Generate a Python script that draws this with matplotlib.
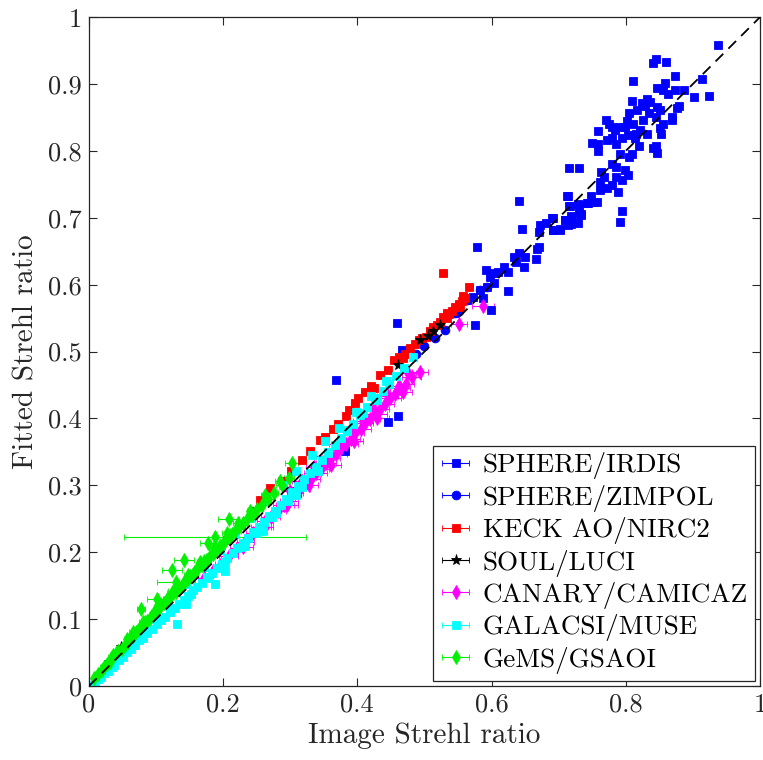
import matplotlib
matplotlib.use("Agg")
import matplotlib.pyplot as plt

plt.rcParams["font.family"] = ["cmr10", "DejaVu Serif"]
plt.rcParams["mathtext.fontset"] = "cm"
plt.rcParams["axes.unicode_minus"] = False

# ---- data ----
irdis_x = [0.937, 0.845, 0.841, 0.860, 0.874, 0.811, 0.914, 0.887, 0.902, 0.924,
           0.859, 0.846, 0.855, 0.863, 0.873, 0.831, 0.836, 0.824, 0.829, 0.809,
           0.846, 0.851, 0.845, 0.880, 0.876, 0.869, 0.869, 0.856, 0.851, 0.853,
           0.845, 0.846, 0.841, 0.834, 0.825, 0.817, 0.805, 0.802, 0.799, 0.791,
           0.784, 0.770, 0.775, 0.780, 0.759, 0.749, 0.759, 0.759, 0.772, 0.780,
           0.786, 0.795, 0.804, 0.814, 0.819, 0.810, 0.805, 0.791, 0.780, 0.785,
           0.799, 0.803, 0.795, 0.786, 0.789, 0.779, 0.772, 0.763, 0.767, 0.762,
           0.762, 0.748, 0.751, 0.757, 0.743, 0.730, 0.730, 0.734, 0.719, 0.714,
           0.715, 0.731, 0.717, 0.709, 0.692, 0.691, 0.702, 0.714, 0.729, 0.794,
           0.791, 0.821, 0.816, 0.831, 0.811,
           0.641, 0.713, 0.729, 0.716, 0.742, 0.734, 0.727, 0.719, 0.710, 0.702,
           0.692, 0.690, 0.681, 0.672, 0.670, 0.645, 0.667, 0.670, 0.666, 0.650,
           0.641, 0.633, 0.637, 0.648, 0.579, 0.618, 0.625, 0.610, 0.603, 0.592,
           0.598, 0.603, 0.593, 0.583, 0.625, 0.587, 0.573, 0.563, 0.599, 0.575,
           0.546, 0.459, 0.466, 0.368, 0.446, 0.460, 0.381, 0.310, 0.306]
irdis_y = [0.959, 0.938, 0.932, 0.933, 0.912, 0.905, 0.907, 0.891, 0.881, 0.882,
           0.902, 0.894, 0.891, 0.885, 0.891, 0.878, 0.873, 0.871, 0.867, 0.874,
           0.866, 0.861, 0.851, 0.867, 0.864, 0.851, 0.846, 0.841, 0.834, 0.826,
           0.807, 0.797, 0.804, 0.856, 0.847, 0.861, 0.856, 0.845, 0.836, 0.836,
           0.831, 0.847, 0.841, 0.836, 0.830, 0.812, 0.810, 0.800, 0.816, 0.820,
           0.810, 0.819, 0.824, 0.819, 0.807, 0.796, 0.791, 0.796, 0.781, 0.776,
           0.771, 0.764, 0.756, 0.761, 0.739, 0.749, 0.744, 0.769, 0.761, 0.754,
           0.741, 0.733, 0.723, 0.724, 0.722, 0.719, 0.707, 0.704, 0.702, 0.733,
           0.775, 0.774, 0.717, 0.697, 0.699, 0.682, 0.682, 0.690, 0.692, 0.710,
           0.694, 0.832, 0.826, 0.826, 0.841,
           0.725, 0.732, 0.721, 0.717, 0.722, 0.706, 0.694, 0.691, 0.697, 0.684,
           0.682, 0.699, 0.692, 0.689, 0.679, 0.684, 0.654, 0.656, 0.639, 0.641,
           0.648, 0.641, 0.634, 0.627, 0.656, 0.627, 0.619, 0.619, 0.617, 0.622,
           0.612, 0.602, 0.597, 0.592, 0.591, 0.580, 0.582, 0.577, 0.562, 0.540,
           0.557, 0.542, 0.503, 0.457, 0.394, 0.404, 0.352, 0.289, 0.292]

zimpol_x = [0.487, 0.499, 0.515, 0.530, 0.546, 0.563, 0.583, 0.593, 0.552]
zimpol_y = [0.497, 0.508, 0.520, 0.532, 0.557, 0.577, 0.592, 0.597, 0.560]

keck_x = [0.205, 0.226, 0.244, 0.255, 0.270, 0.287, 0.301, 0.318, 0.330, 0.345,
          0.352, 0.364, 0.371, 0.383, 0.396, 0.401, 0.411, 0.420, 0.434, 0.445,
          0.454, 0.462, 0.471, 0.478, 0.486, 0.492, 0.497, 0.503, 0.508, 0.512,
          0.518, 0.523, 0.528, 0.533, 0.537, 0.541, 0.546, 0.551, 0.556, 0.560,
          0.528, 0.567, 0.558, 0.553, 0.533, 0.388, 0.425, 0.468]
keck_y = [0.218, 0.240, 0.262, 0.278, 0.296, 0.307, 0.322, 0.338, 0.351, 0.368,
          0.373, 0.384, 0.392, 0.403, 0.423, 0.430, 0.440, 0.448, 0.465, 0.473,
          0.488, 0.492, 0.497, 0.505, 0.512, 0.517, 0.521, 0.522, 0.531, 0.536,
          0.540, 0.544, 0.552, 0.550, 0.556, 0.560, 0.566, 0.571, 0.575, 0.580,
          0.618, 0.597, 0.583, 0.567, 0.557, 0.412, 0.446, 0.490]

soul_x = [0.523, 0.506, 0.494, 0.461, 0.513, 0.047, 0.030]
soul_y = [0.540, 0.523, 0.517, 0.480, 0.531, 0.059, 0.036]

canary_x = [0.172, 0.185, 0.197, 0.208, 0.221, 0.233, 0.244, 0.256, 0.263, 0.271,
            0.282, 0.290, 0.298, 0.307, 0.315, 0.322, 0.331, 0.338, 0.346, 0.353,
            0.361, 0.368, 0.375, 0.383, 0.390, 0.397, 0.405, 0.412, 0.419, 0.427,
            0.434, 0.441, 0.449, 0.456, 0.464, 0.472, 0.481, 0.552, 0.587,
            0.300, 0.318, 0.336, 0.355, 0.372, 0.392, 0.409, 0.425, 0.445, 0.462,
            0.476, 0.230, 0.262, 0.295, 0.328, 0.360, 0.395, 0.430, 0.468, 0.493]
canary_y = [0.161, 0.172, 0.183, 0.194, 0.206, 0.216, 0.228, 0.237, 0.246, 0.253,
            0.262, 0.271, 0.277, 0.288, 0.294, 0.303, 0.310, 0.319, 0.325, 0.333,
            0.341, 0.347, 0.356, 0.362, 0.370, 0.378, 0.384, 0.393, 0.399, 0.407,
            0.414, 0.421, 0.430, 0.436, 0.446, 0.452, 0.462, 0.541, 0.568,
            0.292, 0.307, 0.327, 0.344, 0.362, 0.381, 0.396, 0.414, 0.433, 0.449,
            0.468, 0.208, 0.238, 0.270, 0.301, 0.331, 0.366, 0.401, 0.440, 0.470]
canary_err = [0.010, 0.012, 0.009, 0.014, 0.011, 0.013, 0.010, 0.015, 0.012, 0.014,
              0.011, 0.016, 0.013, 0.012, 0.015, 0.010, 0.014, 0.017, 0.012, 0.015,
              0.013, 0.016, 0.012, 0.018, 0.014, 0.013, 0.016, 0.012, 0.015, 0.017,
              0.013, 0.014, 0.016, 0.012, 0.015, 0.013, 0.014, 0.012, 0.016,
              0.013, 0.015, 0.012, 0.016, 0.014, 0.013, 0.015, 0.012, 0.016, 0.014,
              0.012, 0.014, 0.012, 0.016, 0.013, 0.015, 0.014, 0.017, 0.013, 0.012]

galacsi_x = [0.004, 0.009, 0.014, 0.018, 0.023, 0.029, 0.034, 0.038, 0.045, 0.051,
             0.057, 0.062, 0.069, 0.075, 0.081, 0.087, 0.094, 0.101, 0.108, 0.114,
             0.121, 0.128, 0.134, 0.141, 0.148, 0.155, 0.161, 0.168, 0.176, 0.183,
             0.191, 0.198, 0.206, 0.214, 0.221, 0.229, 0.237, 0.245, 0.253, 0.261,
             0.269, 0.277, 0.286, 0.294, 0.303, 0.312, 0.321, 0.329, 0.338, 0.347,
             0.356, 0.366, 0.375, 0.384, 0.393, 0.404, 0.415, 0.427, 0.438, 0.447,
             0.458, 0.470, 0.483,
             0.026, 0.048, 0.072, 0.097, 0.118, 0.145, 0.172, 0.195, 0.218, 0.241,
             0.265, 0.289, 0.309, 0.333, 0.352, 0.372, 0.398, 0.421, 0.443,
             0.152, 0.178, 0.203, 0.226, 0.249, 0.273, 0.297, 0.318, 0.342, 0.356,
             0.384, 0.409, 0.430,
             0.131, 0.145, 0.188, 0.202, 0.259, 0.232, 0.279, 0.308]
galacsi_y = [0.001, 0.005, 0.010, 0.013, 0.019, 0.023, 0.029, 0.032, 0.039, 0.044,
             0.051, 0.055, 0.061, 0.068, 0.072, 0.079, 0.085, 0.092, 0.098, 0.103,
             0.111, 0.116, 0.123, 0.129, 0.135, 0.143, 0.148, 0.154, 0.163, 0.169,
             0.177, 0.183, 0.192, 0.199, 0.206, 0.214, 0.221, 0.230, 0.238, 0.245,
             0.254, 0.262, 0.271, 0.280, 0.290, 0.299, 0.309, 0.318, 0.328, 0.338,
             0.348, 0.360, 0.371, 0.381, 0.392, 0.405, 0.417, 0.430, 0.441, 0.452,
             0.464, 0.476, 0.492,
             0.028, 0.052, 0.077, 0.100, 0.123, 0.152, 0.178, 0.203, 0.227, 0.251,
             0.276, 0.300, 0.322, 0.346, 0.367, 0.386, 0.409, 0.433, 0.456,
             0.138, 0.162, 0.186, 0.208, 0.229, 0.253, 0.276, 0.297, 0.321, 0.350,
             0.382, 0.408, 0.428,
             0.093, 0.123, 0.153, 0.172, 0.231, 0.210, 0.258, 0.286]

gems_x = [0.008, 0.013, 0.019, 0.022, 0.027, 0.031, 0.035, 0.041, 0.044, 0.049,
          0.053, 0.058, 0.061, 0.066, 0.070, 0.073, 0.079, 0.083, 0.086, 0.091,
          0.095, 0.099, 0.104, 0.107, 0.112, 0.117, 0.121, 0.124, 0.129, 0.133,
          0.138, 0.142, 0.146, 0.151, 0.155, 0.159, 0.163, 0.168, 0.172, 0.176,
          0.181, 0.185, 0.190, 0.194, 0.198, 0.203, 0.208, 0.213, 0.218, 0.224,
          0.229, 0.236, 0.243, 0.251, 0.258, 0.267, 0.276, 0.287, 0.298,
          0.036, 0.057, 0.081, 0.102, 0.125, 0.148, 0.166, 0.187, 0.205, 0.222,
          0.240, 0.262,
          0.065, 0.077, 0.102, 0.130, 0.124, 0.142, 0.178, 0.188, 0.208, 0.285,
          0.302]
gems_y = [0.012, 0.018, 0.024, 0.029, 0.033, 0.036, 0.043, 0.049, 0.053, 0.056,
          0.062, 0.066, 0.072, 0.075, 0.081, 0.083, 0.089, 0.095, 0.097, 0.101,
          0.108, 0.111, 0.116, 0.121, 0.124, 0.130, 0.133, 0.139, 0.141, 0.147,
          0.150, 0.156, 0.158, 0.165, 0.167, 0.173, 0.176, 0.181, 0.187, 0.189,
          0.195, 0.198, 0.204, 0.208, 0.211, 0.217, 0.221, 0.227, 0.231, 0.238,
          0.243, 0.249, 0.256, 0.265, 0.270, 0.279, 0.289, 0.300, 0.311,
          0.046, 0.070, 0.096, 0.118, 0.142, 0.166, 0.186, 0.207, 0.228, 0.244,
          0.262, 0.285,
          0.081, 0.115, 0.130, 0.156, 0.173, 0.189, 0.214, 0.223, 0.250, 0.306,
          0.334]
gems_err = [0.003, 0.004, 0.003, 0.005, 0.004, 0.003, 0.006, 0.004, 0.005, 0.003,
            0.004, 0.006, 0.005, 0.004, 0.003, 0.006, 0.005, 0.004, 0.007, 0.005,
            0.004, 0.006, 0.005, 0.008, 0.004, 0.006, 0.005, 0.007, 0.004, 0.006,
            0.005, 0.008, 0.006, 0.005, 0.007, 0.004, 0.006, 0.008, 0.005, 0.006,
            0.007, 0.005, 0.006, 0.008, 0.005, 0.007, 0.006, 0.005, 0.008, 0.006,
            0.005, 0.007, 0.006, 0.008, 0.005, 0.007, 0.006, 0.008, 0.007,
            0.004, 0.005, 0.006, 0.005, 0.007, 0.006, 0.005, 0.008, 0.006, 0.007,
            0.005, 0.006,
            0.005, 0.006, 0.016, 0.028, 0.015, 0.015, 0.012, 0.136, 0.016, 0.008,
            0.010]

tick_values = [0, 0.1, 0.2, 0.3, 0.4, 0.5, 0.6, 0.7, 0.8, 0.9, 1]
tick_labels = ["0", "0.1", "0.2", "0.3", "0.4", "0.5", "0.6", "0.7", "0.8", "0.9", "1"]
xtick_values = [0, 0.2, 0.4, 0.6, 0.8, 1]
xtick_labels = ["0", "0.2", "0.4", "0.6", "0.8", "1"]

series = [
    ("SPHERE/IRDIS", irdis_x, irdis_y, [0.004] * len(irdis_x), (0, 0, 1), "s", 6.3),
    ("SPHERE/ZIMPOL", zimpol_x, zimpol_y, [0.004] * len(zimpol_x), (0, 0, 1), "o", 6.3),
    ("KECK AO/NIRC2", keck_x, keck_y, [0.005] * len(keck_x), (1, 0, 0), "s", 6.3),
    ("SOUL/LUCI", soul_x, soul_y, [0.004] * len(soul_x), (0, 0, 0), "*", 8),
    ("CANARY/CAMICAZ", canary_x, canary_y, canary_err, (1, 0, 1), "d", 7),
    ("GALACSI/MUSE", galacsi_x, galacsi_y, [0.004] * len(galacsi_x), (0, 1, 1), "s", 6.3),
    ("GeMS/GSAOI", gems_x, gems_y, gems_err, (0, 0.95, 0), "d", 7.5),
]

fig = plt.figure(figsize=(7.63, 7.60), dpi=100)
ax = fig.add_axes([0.1166, 0.0974, 0.8794, 0.880])

for label, xs, ys, errs, color, marker, size in series:
    ax.errorbar(xs, ys, xerr=errs, fmt=marker, color=color, ecolor=color,
                markersize=size, markeredgewidth=0.6, elinewidth=0.8,
                capsize=2.5, label=label)

ax.plot([0, 1], [0, 1], "k--", linewidth=1.3, dashes=(6, 4), zorder=5)

ax.set_xlim(0, 1)
ax.set_ylim(0, 1)
ax.set_xticks(xtick_values)
ax.set_xticklabels(xtick_labels)
ax.set_yticks(tick_values)
ax.set_yticklabels(tick_labels)
ax.tick_params(direction="in", length=6, width=0.8, top=True, right=True,
               labelsize=19, colors="#262626", pad=5)
for spine in ax.spines.values():
    spine.set_color("#262626")
    spine.set_linewidth(0.9)

ax.set_xlabel("Image Strehl ratio", fontsize=21, color="#262626", labelpad=4)
ax.set_ylabel("Fitted Strehl ratio", fontsize=21, color="#262626", labelpad=6)

leg = ax.legend(loc="lower right", fontsize=19.5, fancybox=False, framealpha=1,
                edgecolor="#262626", handlelength=1.2, handletextpad=0.4,
                labelspacing=0.2, borderaxespad=0.2, borderpad=0.25)
leg.get_frame().set_linewidth(0.9)

fig.savefig("out.png", dpi=100)
plt.close(fig)
